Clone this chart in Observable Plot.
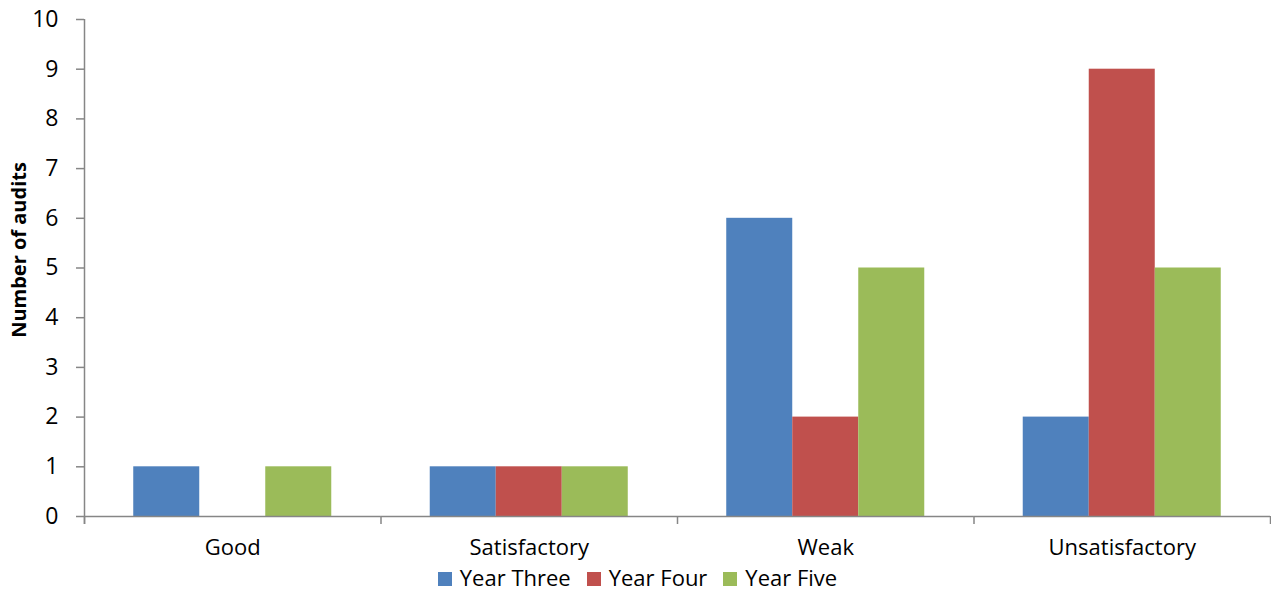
<!DOCTYPE html>
<html>
<head>
<meta charset="utf-8">
<script src="https://cdn.jsdelivr.net/npm/d3@7"></script>
<script src="https://cdn.jsdelivr.net/npm/@observablehq/plot@0.6"></script>
<style>
  body { margin: 0; background: #fff; font-family: "Open Sans", sans-serif; overflow: hidden; }
  #chart svg { display: block; }
  .legend { box-sizing: border-box; display: flex; justify-content: center; align-items: center; height: 30px; padding-left: 4px; font-size: 22px; line-height: 30px; color: #000; }
  .legend .item { display: flex; align-items: center; margin: 0 8px; }
  .legend .swatch { width: 14px; height: 14px; margin-right: 8px; margin-top: 3px; }
</style>
</head>
<body>
<div id="chart"></div>
<script>
// Audit ratings per year
const categories = ["Good", "Satisfactory", "Weak", "Unsatisfactory"];
const seriesNames = ["Year Three", "Year Four", "Year Five"];
const yearThree = [1, 1, 6, 2];
const yearFour = [0, 1, 2, 9];
const yearFive = [1, 1, 5, 5];
const seriesColors = ["#4F81BD", "#C0504D", "#9BBB59"];
const yTicks = [0, 1, 2, 3, 4, 5, 6, 7, 8, 9, 10];
const yLabel = "Number of audits";

// long-format table for the grouped bars
const rows = [];
[yearThree, yearFour, yearFive].forEach((values, s) =>
  values.forEach((v, i) => rows.push({category: categories[i], series: seriesNames[s], value: v}))
);

const W = 1271, H = 562;
const mL = 84, mR = 1, mT = 19, mB = 46;
const band = (W - mL - mR) / categories.length;
const axisGrey = "#868686";
const ruleStyle = {stroke: axisGrey, strokeWidth: 1.5};

const chart = Plot.plot({
  width: W,
  height: H,
  marginLeft: mL,
  marginRight: mR,
  marginTop: mT,
  marginBottom: mB,
  style: {fontFamily: '"Open Sans", sans-serif', fontSize: "23px", color: "#000", background: "#fff", overflow: "visible"},
  fx: {domain: categories, padding: 0, round: false, label: null},
  x: {domain: seriesNames, paddingInner: 0, paddingOuter: 0.746, round: false, axis: null},
  y: {domain: [0, 10]},
  color: {domain: seriesNames, range: seriesColors},
  marks: [
    Plot.barY(rows, {fx: "category", x: "series", y: "value", fill: "series"}),
    // baseline at zero, repeated in every facet
    Plot.ruleY([0], ruleStyle),
    // vertical axis line on the left of the first group
    Plot.ruleX([categories[0]], {fx: d => d, x: null, y1: () => 10, y2: () => 0, dx: -band / 2, insetBottom: -8, ...ruleStyle}),
    // short ticks separating the category groups
    Plot.ruleX(categories, {fx: d => d, x: null, y1: () => 0, y2: () => 0, dx: -band / 2, insetBottom: -8, ...ruleStyle}),
    Plot.ruleX([categories[categories.length - 1]], {fx: d => d, x: null, y1: () => 0, y2: () => 0, dx: band / 2, insetBottom: -8, ...ruleStyle}),
    Plot.axisY({ticks: yTicks, tickSize: 8, tickPadding: 18, stroke: axisGrey, strokeWidth: 1.5, label: null, fontSize: 23}),
    Plot.axisFx({anchor: "bottom", tickSize: 0, tickPadding: 23, label: null, fontSize: 22}),
    Plot.text([yLabel], {fx: () => categories[0], text: d => d, frameAnchor: "left", textAnchor: "middle", rotate: -90, dx: -65, dy: -18, fontWeight: "bold", fontSize: 20, fill: "#000"})
  ]
});

document.getElementById("chart").appendChild(chart);

// legend below the chart
const legend = d3.select("body").append("div").attr("class", "legend");
const items = legend.selectAll(".item").data(seriesNames).join("div").attr("class", "item");
items.append("div").attr("class", "swatch").style("background", (d, i) => seriesColors[i]);
items.append("span").text(d => d);
</script>
</body>
</html>
